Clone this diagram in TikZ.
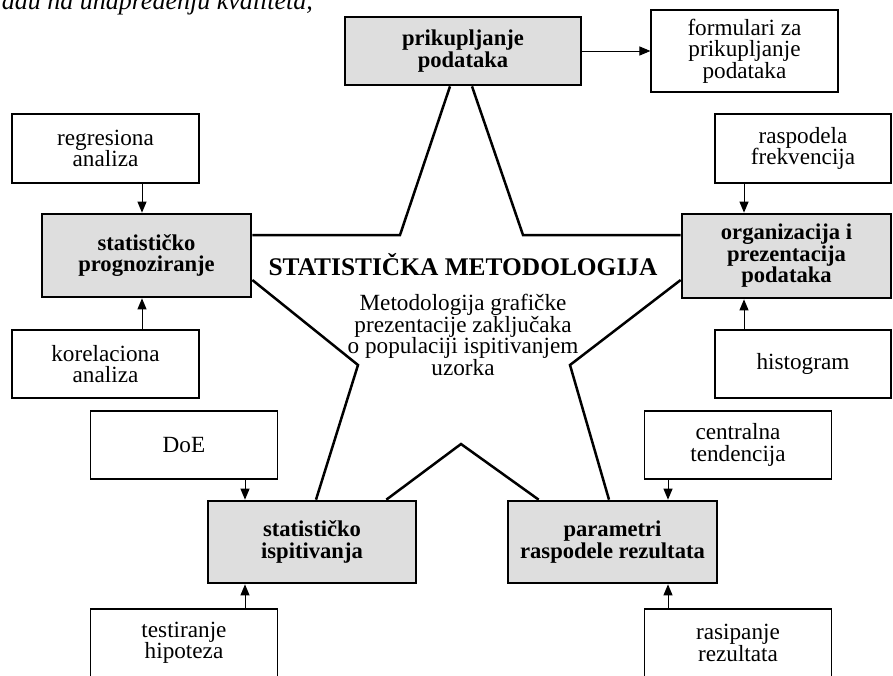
\documentclass[tikz,border=0pt]{standalone}
\usepackage{fontspec}
\setmainfont{Liberation Serif}
\usetikzlibrary{arrows.meta,calc}
\definecolor{boxgray}{HTML}{DEDEDE}
\begin{document}
\begin{tikzpicture}[x=1pt,y=-1pt,
        graybox/.style={draw, line width=2.7pt, fill=boxgray, align=center, inner sep=0pt,
            minimum width=209, minimum height=83, font=\fontsize{22.6}{21.5}\selectfont\bfseries},
        whitebox/.style={draw, line width=1.1pt, fill=white, align=center, inner sep=0pt,
            minimum width=187, minimum height=68, font=\fontsize{23.2}{21.5}\selectfont},
        arr/.style={-{Triangle[length=11pt,width=9pt]}, line width=1pt},
        starline/.style={line width=2.5pt, line join=miter}]
        \useasboundingbox (0,0) rectangle (893,675);
        % line of text cut by the top of the page
        \node at (313,9.5) (head) [anchor=base east, inner sep=0pt, font=\fontsize{26}{26}\selectfont\itshape] {adu na unapređenju kvaliteta,};
        % middle of the star
        \node at (463,275) (title) [anchor=base, inner sep=0pt, font=\fontsize{25.4}{25}\selectfont\bfseries] {STATISTIČKA METODOLOGIJA};
        \node at (463,294) (opis) [anchor=north, inner sep=0pt, align=center, font=\fontsize{23.2}{21.5}\selectfont] {Metodologija grafičke\\ prezentacije zaključaka\\ o populaciji ispitivanjem\\ uzorka};
        % boxes at the points
        \node at (463,51) (prikup) [graybox, minimum width=236, minimum height=68] {prikupljanje\\ podataka};
        \node at (146.5,255.5) (prognoz) [graybox] {statističko\\ prognoziranje};
        \node at (786.5,256) (organiz) [graybox, minimum height=84] {organizacija i\\ prezentacija\\ podataka};
        \node at (312,542) (ispit) [graybox, minimum width=208, minimum height=82] {statističko\\ ispitivanja};
        \node at (612.5,542) (param) [graybox, minimum height=82] {parametri\\ raspodele rezultata};
        % side boxes
        \node at (744.5,51) (formular) [whitebox, minimum height=82] {formulari za\\ prikupljanje\\ podataka};
        \node at (105.5,148.5) (regres) [whitebox, minimum height=69] {regresiona\\ analiza};
        \node at (105.5,364) (korel) [whitebox] {korelaciona\\ analiza};
        \node at (803,148.5) (raspod) [whitebox, minimum width=176, minimum height=69] {raspodela\\ frekvencija};
        \node at (803,364) (histog) [whitebox, minimum width=176] {histogram};
        \node at (184,445) (doe) [whitebox] {DoE};
        \node at (184,643) (testir) [whitebox] {testiranje\\ hipoteza};
        \node at (738,445) (central) [whitebox] {centralna\\ tendencija};
        \node at (738,643) (rasip) [whitebox] {rasipanje\\ rezultata};
        % star
        \coordinate (s1) at (400,235);
        \coordinate (s2) at (523,235);
        \coordinate (s3) at (358,365);
        \coordinate (s4) at (570,365);
        \coordinate (s5) at (461,444);
        \draw[starline] ($(prikup.south)+(-13,0)$) -- (s1) -- (s1 -| prognoz.east);
        \draw[starline] ($(prikup.south)+(9,0)$) -- (s2) -- (s2 -| organiz.west);
        \draw[starline] ($(prognoz.east)+(0,24.5)$) -- (s3) -- ($(ispit.north)+(4,0)$);
        \draw[starline] ($(ispit.north east)+(-31,0)$) -- (s5) -- ($(param.north west)+(32,0)$);
        \draw[starline] ($(organiz.west)+(0,24)$) -- (s4) -- ($(param.north)+(-3.5,0)$);
        % arrows
        \draw[arr] (prikup) -- (formular);
        \coordinate (p1) at ($(prognoz.north)+(-4.5,0)$);
        \coordinate (p2) at ($(prognoz.south)+(-4.5,0)$);
        \coordinate (o1) at ($(organiz.north)+(-42.5,0)$);
        \coordinate (o2) at ($(organiz.south)+(-42.5,0)$);
        \coordinate (i1) at ($(ispit.north)+(-67,0)$);
        \coordinate (i2) at ($(ispit.south)+(-67,0)$);
        \coordinate (r1) at ($(param.north)+(55.5,0)$);
        \coordinate (r2) at ($(param.south)+(55.5,0)$);
        \draw[arr] (regres.south -| p1) -- (p1);
        \draw[arr] (korel.north -| p2) -- (p2);
        \draw[arr] (raspod.south -| o1) -- (o1);
        \draw[arr] (histog.north -| o2) -- (o2);
        \draw[arr] (doe.south -| i1) -- (i1);
        \draw[arr] (testir.north -| i2) -- (i2);
        \draw[arr] (central.south -| r1) -- (r1);
        \draw[arr] (rasip.north -| r2) -- (r2);
\end{tikzpicture}
\end{document}
